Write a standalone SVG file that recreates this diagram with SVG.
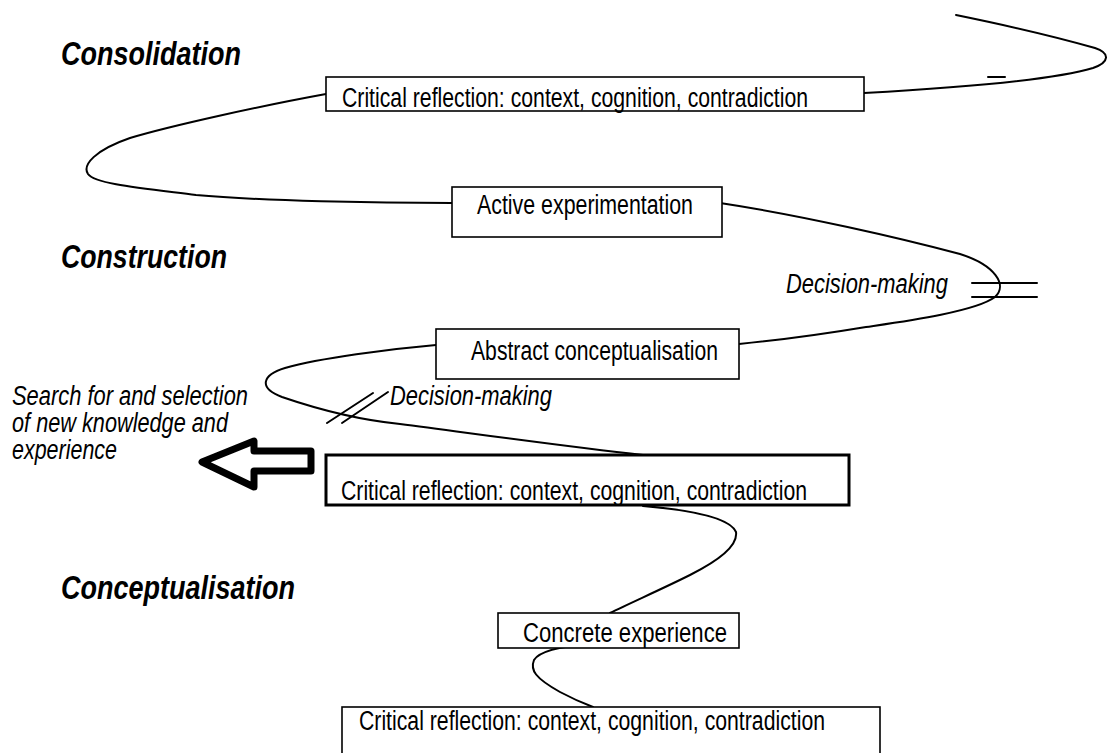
<svg xmlns="http://www.w3.org/2000/svg" width="1108" height="753" viewBox="0 0 1108 753">
<style>
.bg{fill:#fff}
.box{fill:#fff;stroke:#000;stroke-width:1.6}
.boxb{fill:#fff;stroke:#000;stroke-width:3}
.t{font-family:"Liberation Sans Narrow","Arial Narrow","Liberation Sans",Arial,sans-serif;font-size:27px;fill:#000}
.ti{font-family:"Liberation Sans Narrow","Arial Narrow","Liberation Sans",Arial,sans-serif;font-size:27px;font-style:italic;fill:#000}
.h{font-family:"Liberation Sans Narrow","Arial Narrow","Liberation Sans",Arial,sans-serif;font-size:33px;font-style:italic;font-weight:bold;fill:#000}
.c{fill:none;stroke:#000;stroke-width:2;stroke-linecap:round;stroke-linejoin:round}
</style>
<rect class="bg" x="0" y="0" width="1108" height="753"/>
<g id="headings">
<text class="h" x="61" y="65" textLength="180" lengthAdjust="spacingAndGlyphs">Consolidation</text>
<text class="h" x="61" y="268" textLength="166" lengthAdjust="spacingAndGlyphs">Construction</text>
<text class="h" x="61" y="599" textLength="234" lengthAdjust="spacingAndGlyphs">Conceptualisation</text>
</g>
<g id="connectors">
<path class="c" d="M956,15 C1000,24 1060,38 1095,48 C1110,53 1110,62 1093,68 C1060,78 990,86 864,93"/>
<path class="c" d="M988,77 L1005,77"/>
<path class="c" d="M326,94 C260,106 170,126 130,138 C95,150 82,165 88,174 C95,184 140,188 196,195 C260,201 380,203 452,203"/>
<path class="c" d="M720,203 C800,215 900,238 960,254 C995,265 1008,285 995,297 C975,312 900,322 866,327 C830,333 780,340 739,344"/>
<path class="c" d="M972,283 L1037,283 M972,297 L1037,297"/>
<path class="c" d="M436,345 C390,349 320,358 285,368 C262,375 258,388 282,397 C320,410 360,420 400,424 C470,433 560,446 643,455"/>
<path class="c" d="M327,423 L373,393 M342,423 L388,392"/>
<path class="c" d="M643,506 C690,510 730,518 736,532 C738,545 720,560 690,575 C660,590 630,603 610,613"/>
<path class="c" d="M580,643 L611,643 L590,644 C565,646 540,650 534,660 C530,670 535,678 560,692 C575,700 585,704 593,707"/>
</g>
<g id="arrow">
<path d="M202,462 L254,441 L254,451 L311,451 L311,471 L254,471 L254,487 Z" fill="none" stroke="#000" stroke-width="7" stroke-linejoin="round"/>
</g>
<g id="node-cr1">
<rect class="box" x="326" y="77" width="538" height="34"/>
<text class="t" x="342" y="107" textLength="466" lengthAdjust="spacingAndGlyphs">Critical reflection: context, cognition, contradiction</text>
</g>
<g id="node-ae">
<rect class="box" x="452" y="187" width="270" height="50"/>
<text class="t" x="477" y="214" textLength="216" lengthAdjust="spacingAndGlyphs">Active experimentation</text>
</g>
<g id="node-ac">
<rect class="box" x="436" y="329" width="303" height="50"/>
<text class="t" x="471" y="360" textLength="247" lengthAdjust="spacingAndGlyphs">Abstract conceptualisation</text>
</g>
<g id="node-cr2">
<rect class="boxb" x="326" y="455" width="523" height="50"/>
<text class="t" x="341" y="500" textLength="466" lengthAdjust="spacingAndGlyphs">Critical reflection: context, cognition, contradiction</text>
</g>
<g id="node-ce">
<rect class="box" x="498" y="613" width="241" height="35"/>
<text class="t" x="523" y="642" textLength="204" lengthAdjust="spacingAndGlyphs">Concrete experience</text>
</g>
<g id="node-cr3">
<rect class="box" x="342" y="707" width="538" height="60"/>
<text class="t" x="359" y="730" textLength="466" lengthAdjust="spacingAndGlyphs">Critical reflection: context, cognition, contradiction</text>
</g>
<g id="labels">
<text class="ti" x="786" y="293" textLength="162" lengthAdjust="spacingAndGlyphs">Decision-making</text>
<text class="ti" x="390" y="405" textLength="162" lengthAdjust="spacingAndGlyphs">Decision-making</text>
<text class="ti" x="12" y="405" textLength="236" lengthAdjust="spacingAndGlyphs">Search for and selection</text>
<text class="ti" x="12" y="432" textLength="216" lengthAdjust="spacingAndGlyphs">of new knowledge and</text>
<text class="ti" x="12" y="459" textLength="105" lengthAdjust="spacingAndGlyphs">experience</text>
</g>
</svg>
